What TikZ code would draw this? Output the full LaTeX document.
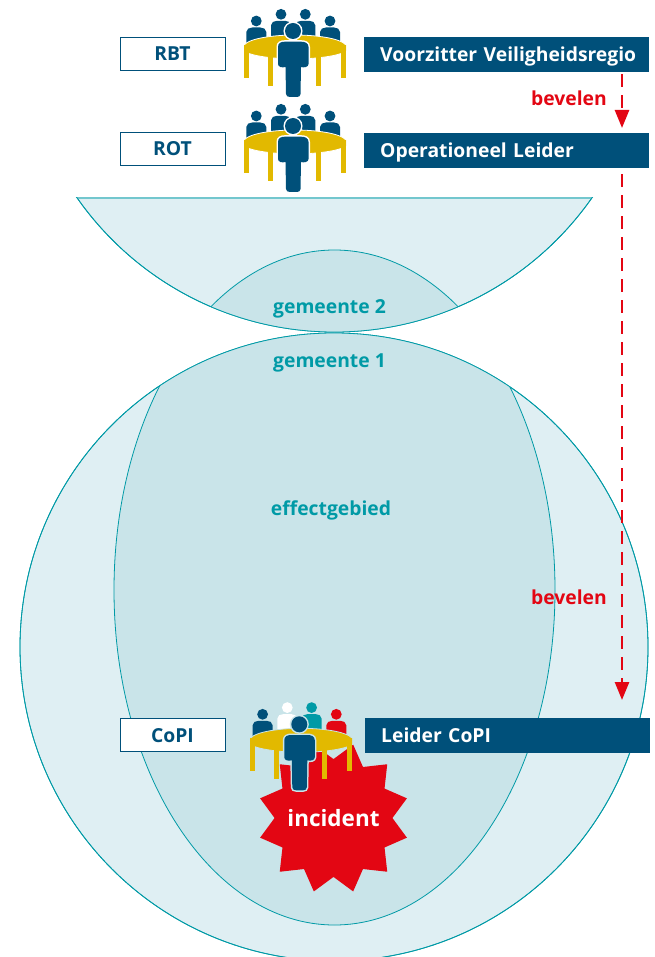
\documentclass[tikz,border=0pt]{standalone}
\usepackage{fontspec}
\setmainfont{Open Sans}
\usetikzlibrary{arrows.meta}
\usetikzlibrary{shapes.geometric}
\definecolor{donkerblauw}{HTML}{00507A}
\definecolor{goud}{HTML}{E2B900}
\definecolor{teal}{HTML}{009AA6}
\definecolor{rood}{HTML}{E30613}
\definecolor{licht}{HTML}{DFEFF3}
\definecolor{vlak}{HTML}{C9E4E9}
\tikzset{
	rol/.style={draw=donkerblauw,line width=1pt,fill=white,text=donkerblauw,font=\fontsize{19.3}{22}\selectfont\bfseries,minimum width=105pt,minimum height=33pt,inner sep=0pt,text height=14pt,text depth=0pt},
	balk/.style={fill=donkerblauw,text=white,font=\fontsize{19.3}{22}\selectfont\bfseries,anchor=north west,text width=285pt,inner xsep=0pt,inner ysep=0pt,minimum height=35pt,text height=15pt,text depth=1.5pt,align=left,execute at begin node=\hspace*{16pt}},
	gebied/.style={draw=teal,line width=.8pt},
	gebiedtekst/.style={text=teal,font=\fontsize{19.3}{22}\selectfont\bfseries},
	beveltekst/.style={text=rood,font=\fontsize{19.3}{22}\selectfont\bfseries},
	pijl/.style={draw=rood,line width=2.6pt,dash pattern=on 13pt off 8pt,-{Triangle[length=18pt,width=14pt]}},
	pics/overleg/.style n args={5}{code={
		\fill[#1] (-36.7,-10) circle[radius=5.4]; %hoofden achter
		\fill[#2] (-12,-16.7) circle[radius=5.4];
		\fill[#3] (12.3,-16.7) circle[radius=5.4];
		\fill[#4] (37,-10) circle[radius=5.4];
		\foreach \kx/\ky/\kc in {-36.7/-10/#1,-12/-16.7/#2,12.3/-16.7/#3,37/-10/#4}{
			\fill[\kc,shift={(\kx,\ky)}] (-10,22) -- (-10,11) .. controls (-10,8) and (-7,6.5) .. (-4,6.5) -- (4,6.5) .. controls (7,6.5) and (10,8) .. (10,11) -- (10,22) -- cycle; %lijf achter
		}
		\filldraw[fill=goud,draw=#5,line width=.8pt] (-49,14) .. controls (-43,7) and (-18,4) .. (2,4) .. controls (22,4) and (47,7) .. (53,14) -- (53,20) .. controls (47,25) and (22,28) .. (2,28) .. controls (-18,28) and (-43,25) .. (-49,20) -- cycle; %tafelblad
		\fill[goud] (-49,14) rectangle (-44,47); %poten
		\fill[goud] (-25,24) rectangle (-20,55);
		\fill[goud] (23,24) rectangle (28,55);
		\fill[goud] (48,14) rectangle (53,47);
		\fill[donkerblauw,preaction={draw=#5,line width=3pt}] (0,0) circle[radius=8]; %hoofd voor
		\fill[donkerblauw,preaction={draw=#5,line width=3pt}] (-15,16) .. controls (-15,12) and (-12,10.7) .. (-8,10.7) -- (8,10.7) .. controls (12,10.7) and (15.5,12) .. (15.5,16) -- (15.5,33) .. controls (15.5,36) and (11,37) .. (8,36) -- (7.5,63) .. controls (7.3,65) and (6,66) .. (4,66) -- (-3,66) .. controls (-5.5,66) and (-6.8,65) .. (-7,63) -- (-7.5,36) .. controls (-11,37) and (-15,36) .. (-15,33) -- cycle; %lijf voor
	}},
}
\begin{document}
\begin{tikzpicture}[x=1pt,y=-1pt]
	\useasboundingbox (0,0) rectangle (654,957);
	\filldraw[gebied,fill=licht] (334,647) circle[radius=314]; %regio onder
	\begin{scope}
		\clip (334,647) circle[radius=314];
		\filldraw[gebied,fill=vlak] (334.5,590) ellipse[x radius=220.5,y radius=335]; %effectgebied onder
	\end{scope}
	\draw[gebied] (334,647) circle[radius=314];
	\begin{scope}
		\clip (0,198) rectangle (654,400);
		\filldraw[gebied,fill=licht] (334.5,18) circle[radius=314]; %regio boven
		\clip (334.5,18) circle[radius=314];
		\filldraw[gebied,fill=vlak] (334.5,585) ellipse[x radius=222,y radius=335]; %effectgebied boven
	\end{scope}
	\draw[gebied,draw=teal!55,line width=1.2pt] (334.5,18) ++(-257,180) -- ++(514,0);
	\begin{scope}
		\clip (0,198) rectangle (654,400);
		\draw[gebied] (334.5,18) circle[radius=314];
	\end{scope}
	\node[gebiedtekst] (g2) at (329.5,309) {gemeente 2};
	\node[gebiedtekst] (g1) at (329.5,363) {gemeente 1};
	\node[gebiedtekst] (eg) at (331,510) {effectgebied};
	\node[star,star points=12,star point ratio=1.29,shape border rotate=15,fill=rood,inner sep=0pt,minimum size=152pt] (inc) at (333.5,818) {}; %ster
	\node[text=white,font=\fontsize{22.5}{24}\selectfont\bfseries] (inctekst) at (inc.center) {incident};
	\node[rol] (rbt) at (172.5,54) {RBT};
	\node[rol] (rot) at (172.5,149) {ROT};
	\node[rol] (copi) at (172.5,735) {CoPI};
	\node[balk] (vz) at (364,37) {Voorzitter Veiligheidsregio};
	\node[balk] (ol) at (364,133) {Operationeel Leider};
	\node[balk] (lc) at (365,718) {Leider CoPI};
	\pic (icoonrbt) at (293,31) {overleg={donkerblauw}{donkerblauw}{donkerblauw}{donkerblauw}{white}};
	\pic (icoonrot) at (293,126) {overleg={donkerblauw}{donkerblauw}{donkerblauw}{donkerblauw}{white}};
	\pic (icooncopi) at (299.3,724.3) {overleg={donkerblauw}{white}{teal}{rood}{vlak}};
	\coordinate (as) at (622,0); %lijn van de pijlen
	\draw[pijl,shorten <=2pt,shorten >=5pt] (vz.south -| as) -- (ol.north -| as);
	\draw[pijl,shorten <=6pt,shorten >=18pt] (ol.south -| as) -- (lc.north -| as);
	\node[beveltekst] (bev1) at (569,98) {bevelen};
	\node[beveltekst] (bev2) at (569,597) {bevelen};
\end{tikzpicture}
\end{document}
